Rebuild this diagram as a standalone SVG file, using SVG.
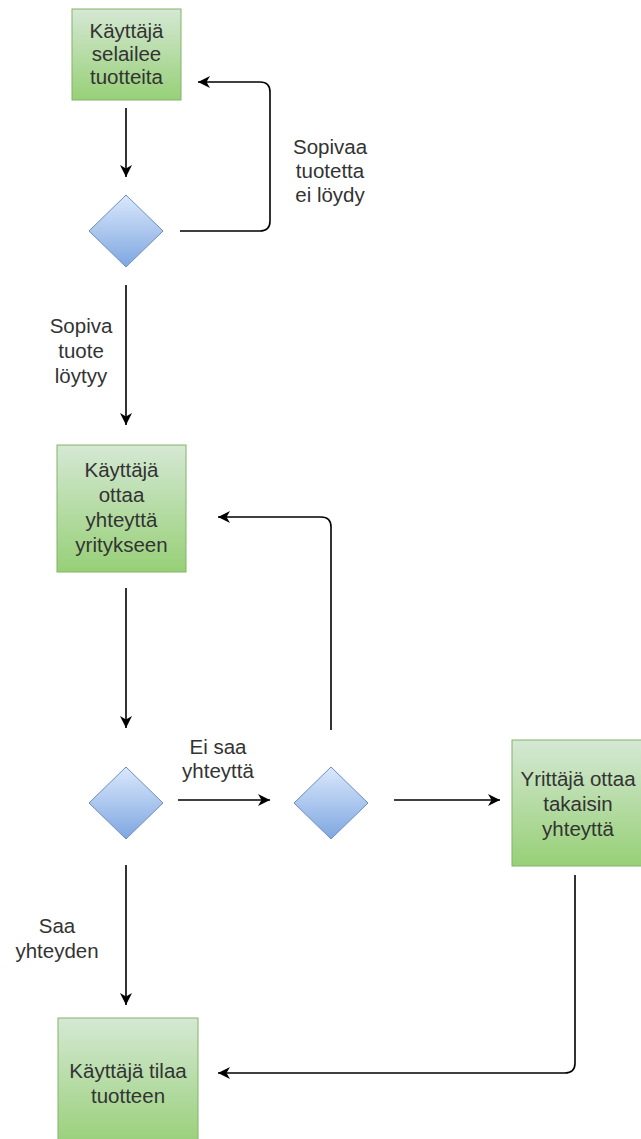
<svg xmlns="http://www.w3.org/2000/svg" width="641" height="1139" viewBox="0 0 641 1139">
<defs>
<linearGradient id="gGreen" x1="0" y1="0" x2="0" y2="1"><stop offset="0" stop-color="#d5e8d4"/><stop offset="1" stop-color="#97d077"/></linearGradient>
<linearGradient id="gBlue" x1="0" y1="0" x2="0" y2="1"><stop offset="0" stop-color="#dae8fc"/><stop offset="1" stop-color="#7ea6e0"/></linearGradient>
<marker id="arr" markerUnits="userSpaceOnUse" markerWidth="14" markerHeight="14" refX="12" refY="7" orient="auto"><path d="M0,1 L12,7 L0,13 L3.5,7 Z" fill="#000"/></marker>
<style>
.box{fill:url(#gGreen);stroke:#82b366;stroke-width:1}
.dia{fill:url(#gBlue);stroke:#6c8ebf;stroke-width:1}
.t{font-family:"Liberation Sans",Arial,sans-serif;font-size:20.5px;fill:#333;text-anchor:middle}
.c{fill:none;stroke:#000;stroke-width:1.6;marker-end:url(#arr)}
</style>
</defs>
<g id="n1"><rect class="box" x="72" y="9" width="109" height="91"/><text class="t"><tspan x="126.5" y="38">Käyttäjä</tspan><tspan x="126.5" y="61">selailee</tspan><tspan x="126.5" y="84">tuotteita</tspan></text></g>
<g id="d1"><polygon class="dia" points="126,195 163,231 126,267 89,231"/></g>
<g id="n2"><rect class="box" x="57" y="445" width="129" height="127"/><text class="t"><tspan x="121.5" y="477">Käyttäjä</tspan><tspan x="121.5" y="502">ottaa</tspan><tspan x="121.5" y="527">yhteyttä</tspan><tspan x="121.5" y="552">yritykseen</tspan></text></g>
<g id="d2"><polygon class="dia" points="126,767 163,803 126,839 89,803"/></g>
<g id="d3"><polygon class="dia" points="331,767 368,803 331,839 294,803"/></g>
<g id="n4"><rect class="box" x="512" y="740" width="135" height="126"/><text class="t"><tspan x="578" y="786">Yrittäjä ottaa</tspan><tspan x="578" y="811">takaisin</tspan><tspan x="578" y="836">yhteyttä</tspan></text></g>
<g id="n5"><rect class="box" x="58" y="1018" width="140" height="130"/><text class="t"><tspan x="128" y="1078">Käyttäjä tilaa</tspan><tspan x="128" y="1103">tuotteen</tspan></text></g>
<g id="connectors">
<path class="c" d="M126,108 L126,177"/>
<path class="c" d="M180,231 L260,231 Q270,231 270,221 L270,92 Q270,82 260,82 L198,82"/>
<path class="c" d="M126,285 L126,425"/>
<path class="c" d="M126,588 L126,728"/>
<path class="c" d="M178,800 L270,800"/>
<path class="c" d="M331,730 L331,527 Q331,517 321,517 L218,517"/>
<path class="c" d="M394,800 L500,800"/>
<path class="c" d="M575,875 L575,1063 Q575,1073 565,1073 L218,1073"/>
<path class="c" d="M126,865 L126,1005"/>
</g>
<g id="labels">
<text class="t"><tspan x="330" y="154">Sopivaa</tspan><tspan x="330" y="178">tuotetta</tspan><tspan x="330" y="202">ei löydy</tspan></text>
<text class="t"><tspan x="81" y="333">Sopiva</tspan><tspan x="81" y="358">tuote</tspan><tspan x="81" y="383">löytyy</tspan></text>
<text class="t"><tspan x="218" y="754">Ei saa</tspan><tspan x="218" y="778">yhteyttä</tspan></text>
<text class="t"><tspan x="57" y="933">Saa</tspan><tspan x="57" y="958">yhteyden</tspan></text>
</g>
</svg>
